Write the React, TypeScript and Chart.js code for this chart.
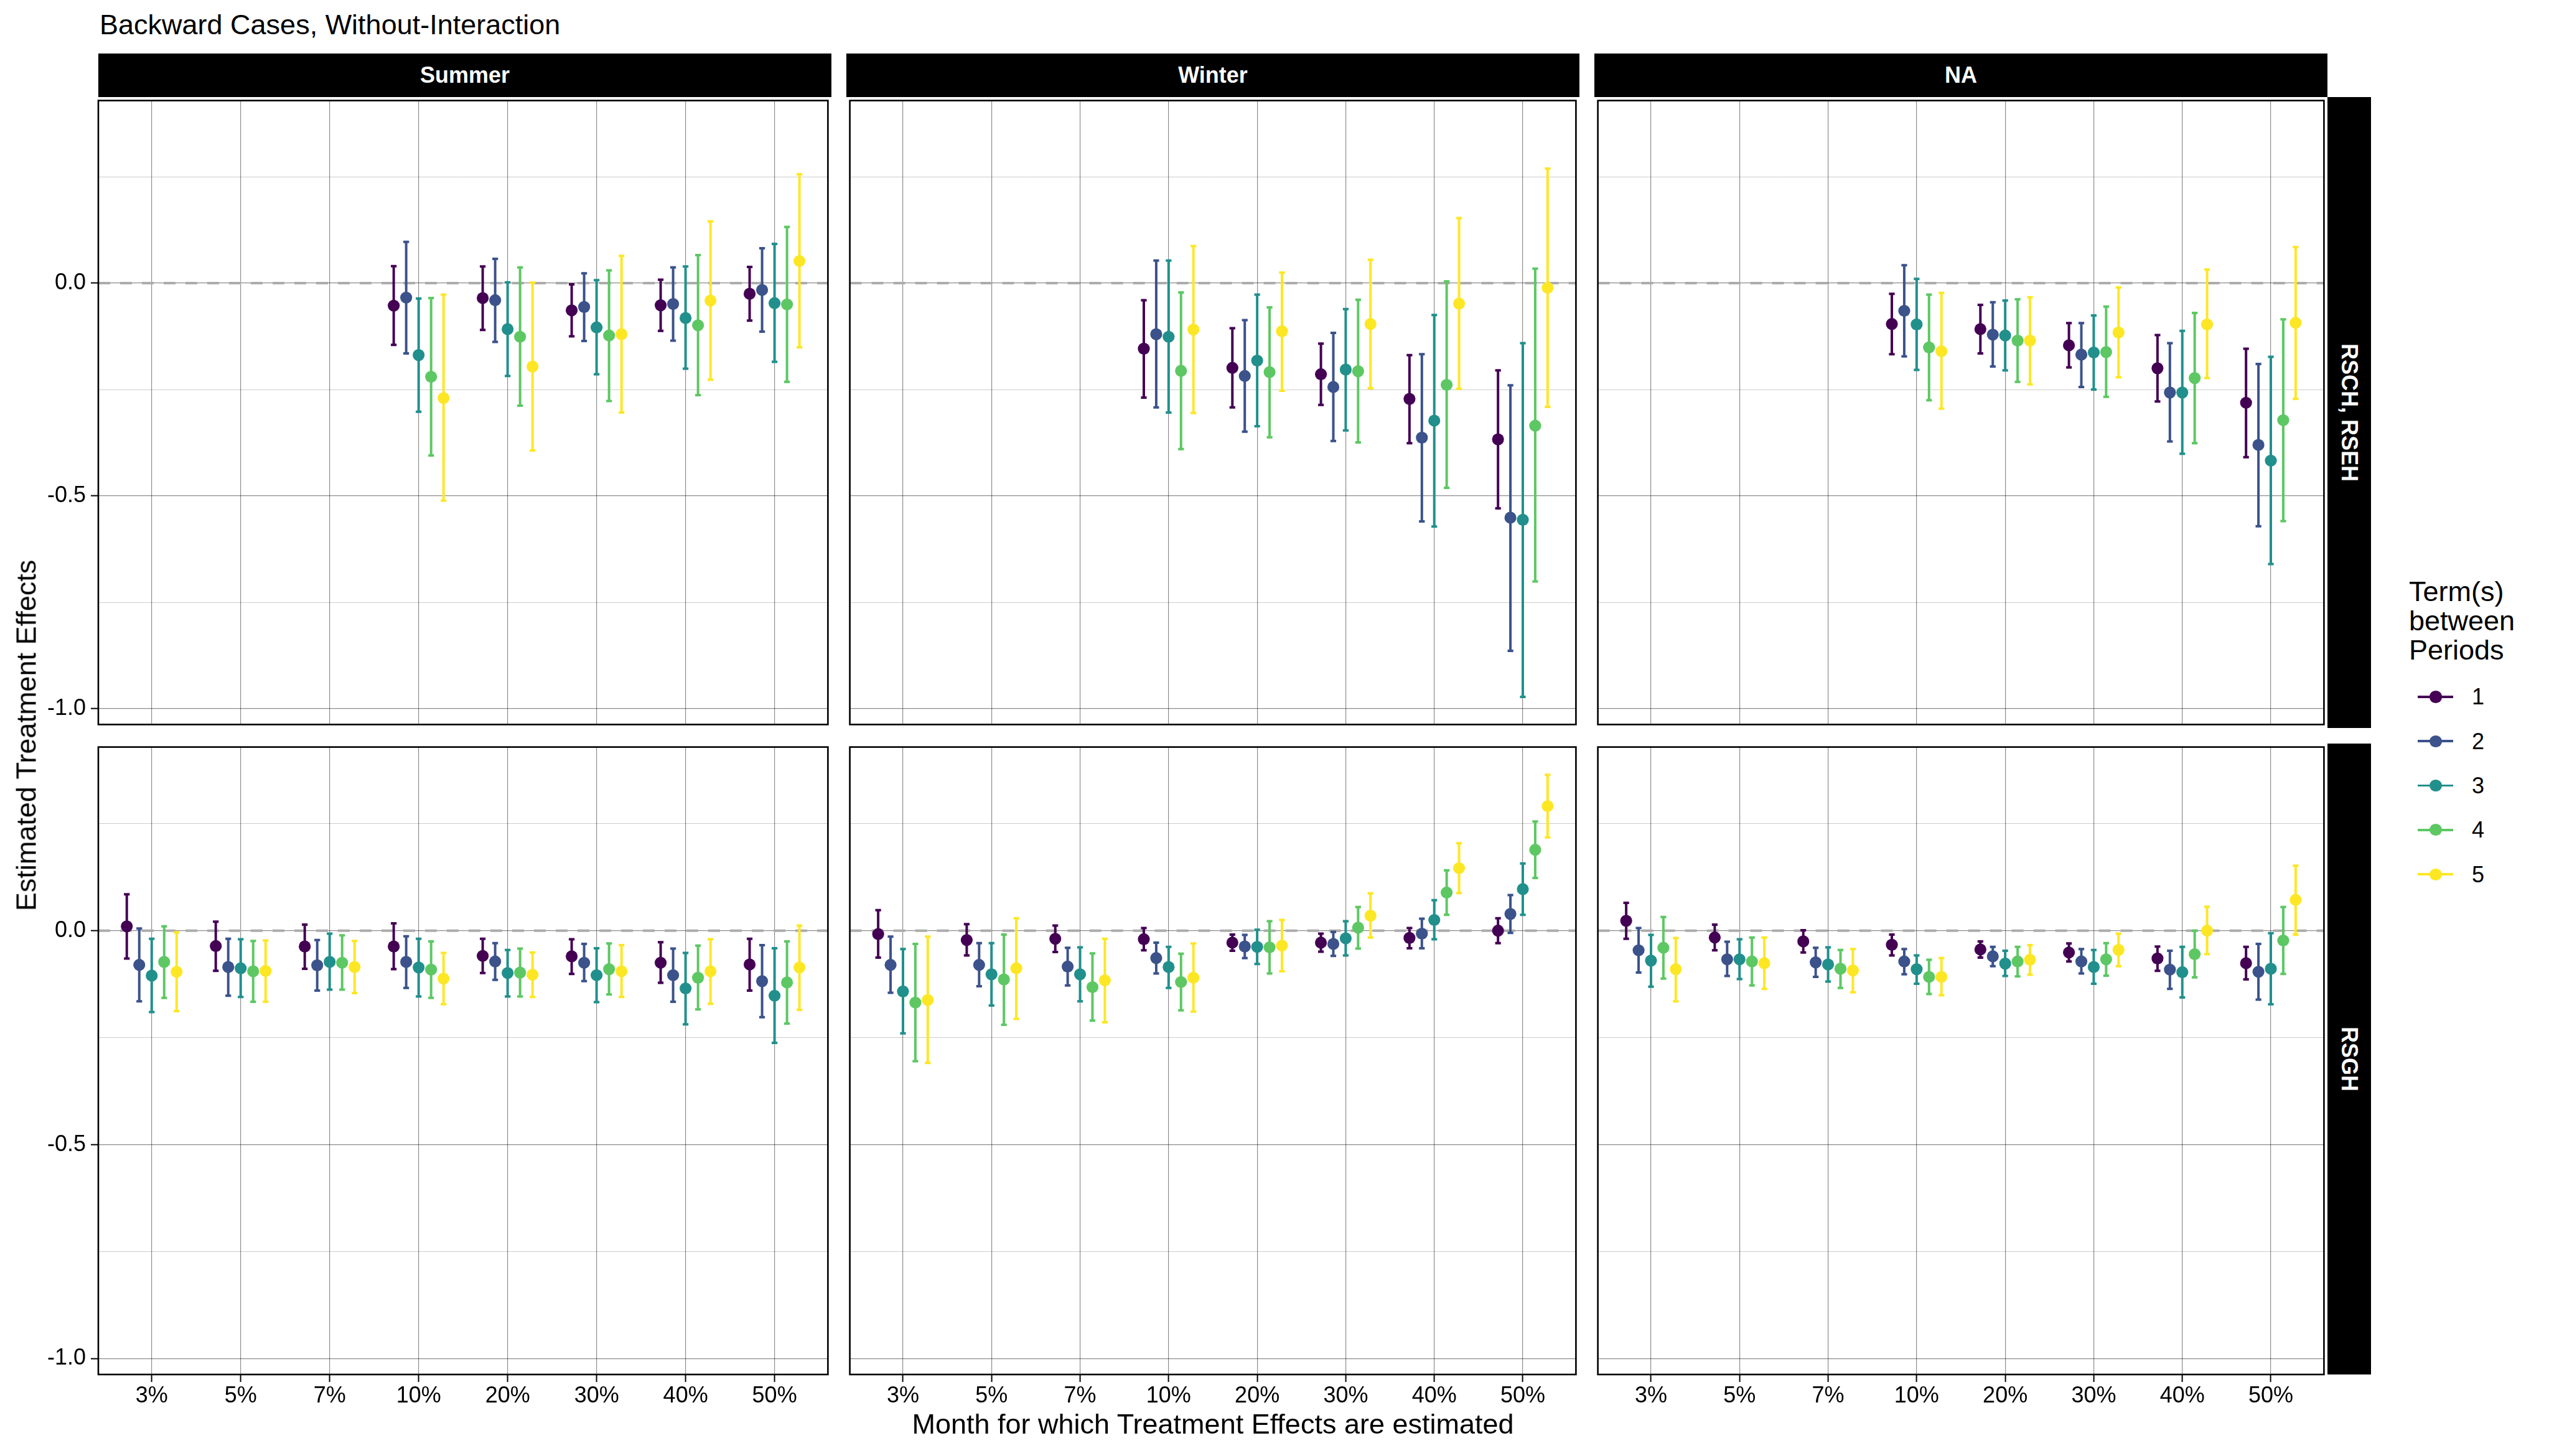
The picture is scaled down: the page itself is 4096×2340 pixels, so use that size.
import React, { useEffect, useRef } from "react";
import { Chart, registerables } from "chart.js";
Chart.register(...registerables);

// ---------- data ----------
const CATEGORIES = ["3%", "5%", "7%", "10%", "20%", "30%", "40%", "50%"];
const SERIES = ["1", "2", "3", "4", "5"];
const COLUMNS = ["Summer", "Winter", "NA"];
const ROWS = ["RSCH, RSEH", "RSGH"];
const COLORS = ["#440154", "#3B528B", "#21908C", "#5DC863", "#FDE725"];
const Y_GRID = [-1.0, -0.75, -0.5, -0.25, 0.0, 0.25];
const Y_LABELS = [-1.0, -0.5, 0.0];
const N = null;

// Row "RSCH, RSEH" / Summer
const SUMMER_TOP_EST = [
  [N, N, N, -0.053, -0.035, -0.064, -0.052, -0.025],
  [N, N, N, -0.034, -0.040, -0.056, -0.049, -0.016],
  [N, N, N, -0.169, -0.108, -0.104, -0.082, -0.047],
  [N, N, N, -0.220, -0.126, -0.123, -0.099, -0.050],
  [N, N, N, -0.270, -0.196, -0.120, -0.041, 0.052],
];
const SUMMER_TOP_LO = [
  [N, N, N, -0.145, -0.110, -0.125, -0.112, -0.088],
  [N, N, N, -0.165, -0.138, -0.136, -0.135, -0.114],
  [N, N, N, -0.302, -0.218, -0.214, -0.201, -0.185],
  [N, N, N, -0.405, -0.288, -0.277, -0.263, -0.232],
  [N, N, N, -0.511, -0.393, -0.304, -0.227, -0.151],
];
const SUMMER_TOP_HI = [
  [N, N, N, 0.040, 0.039, -0.003, 0.008, 0.038],
  [N, N, N, 0.097, 0.057, 0.023, 0.037, 0.082],
  [N, N, N, -0.036, 0.002, 0.007, 0.039, 0.092],
  [N, N, N, -0.035, 0.037, 0.030, 0.066, 0.132],
  [N, N, N, -0.027, 0.001, 0.064, 0.145, 0.256],
];
// Row "RSCH, RSEH" / Winter
const WINTER_TOP_EST = [
  [N, N, N, -0.154, -0.199, -0.214, -0.272, -0.367],
  [N, N, N, -0.120, -0.218, -0.244, -0.363, -0.551],
  [N, N, N, -0.126, -0.182, -0.203, -0.323, -0.556],
  [N, N, N, -0.206, -0.209, -0.207, -0.239, -0.335],
  [N, N, N, -0.109, -0.113, -0.096, -0.048, -0.011],
];
const WINTER_TOP_LO = [
  [N, N, N, -0.269, -0.292, -0.286, -0.376, -0.529],
  [N, N, N, -0.292, -0.349, -0.371, -0.560, -0.864],
  [N, N, N, -0.304, -0.336, -0.346, -0.572, -0.972],
  [N, N, N, -0.390, -0.362, -0.374, -0.481, -0.701],
  [N, N, N, -0.305, -0.253, -0.247, -0.248, -0.291],
];
const WINTER_TOP_HI = [
  [N, N, N, -0.040, -0.106, -0.142, -0.169, -0.205],
  [N, N, N, 0.053, -0.087, -0.117, -0.167, -0.240],
  [N, N, N, 0.053, -0.027, -0.061, -0.075, -0.141],
  [N, N, N, -0.022, -0.057, -0.039, 0.004, 0.034],
  [N, N, N, 0.087, 0.025, 0.055, 0.153, 0.269],
];
// Row "RSCH, RSEH" / NA
const NA_TOP_EST = [
  [N, N, N, -0.096, -0.108, -0.146, -0.200, -0.281],
  [N, N, N, -0.065, -0.121, -0.168, -0.257, -0.380],
  [N, N, N, -0.097, -0.123, -0.163, -0.257, -0.417],
  [N, N, N, -0.151, -0.135, -0.162, -0.223, -0.322],
  [N, N, N, -0.160, -0.135, -0.116, -0.097, -0.093],
];
const NA_TOP_LO = [
  [N, N, N, -0.167, -0.165, -0.198, -0.278, -0.409],
  [N, N, N, -0.172, -0.196, -0.244, -0.372, -0.571],
  [N, N, N, -0.204, -0.205, -0.250, -0.401, -0.660],
  [N, N, N, -0.275, -0.232, -0.267, -0.376, -0.559],
  [N, N, N, -0.295, -0.238, -0.221, -0.223, -0.272],
];
const NA_TOP_HI = [
  [N, N, N, -0.025, -0.051, -0.094, -0.122, -0.154],
  [N, N, N, 0.042, -0.045, -0.094, -0.141, -0.190],
  [N, N, N, 0.010, -0.041, -0.076, -0.112, -0.173],
  [N, N, N, -0.027, -0.038, -0.055, -0.070, -0.085],
  [N, N, N, -0.023, -0.033, -0.010, 0.032, 0.085],
];
// Row "RSGH" / Summer
const SUMMER_BOT_EST = [
  [0.010, -0.036, -0.037, -0.037, -0.059, -0.060, -0.075, -0.079],
  [-0.080, -0.085, -0.081, -0.073, -0.072, -0.075, -0.104, -0.118],
  [-0.105, -0.088, -0.073, -0.086, -0.099, -0.104, -0.135, -0.152],
  [-0.073, -0.095, -0.075, -0.091, -0.098, -0.090, -0.110, -0.121],
  [-0.096, -0.094, -0.085, -0.112, -0.103, -0.095, -0.095, -0.086],
];
const SUMMER_BOT_LO = [
  [-0.065, -0.094, -0.089, -0.090, -0.099, -0.101, -0.122, -0.140],
  [-0.165, -0.152, -0.140, -0.134, -0.115, -0.118, -0.166, -0.202],
  [-0.190, -0.155, -0.138, -0.154, -0.154, -0.167, -0.219, -0.262],
  [-0.157, -0.166, -0.138, -0.157, -0.154, -0.149, -0.184, -0.217],
  [-0.188, -0.166, -0.146, -0.172, -0.155, -0.155, -0.171, -0.185],
];
const SUMMER_BOT_HI = [
  [0.085, 0.021, 0.014, 0.017, -0.019, -0.020, -0.027, -0.019],
  [0.005, -0.019, -0.022, -0.013, -0.029, -0.031, -0.042, -0.034],
  [-0.019, -0.020, -0.007, -0.019, -0.045, -0.041, -0.052, -0.041],
  [0.010, -0.024, -0.011, -0.025, -0.042, -0.030, -0.035, -0.025],
  [-0.004, -0.023, -0.024, -0.052, -0.051, -0.034, -0.020, 0.012],
];
// Row "RSGH" / Winter
const WINTER_BOT_EST = [
  [-0.008, -0.022, -0.019, -0.020, -0.028, -0.028, -0.017, 0.000],
  [-0.080, -0.080, -0.084, -0.064, -0.037, -0.031, -0.007, 0.039],
  [-0.142, -0.102, -0.102, -0.085, -0.038, -0.018, 0.025, 0.097],
  [-0.168, -0.114, -0.132, -0.120, -0.039, 0.007, 0.089, 0.189],
  [-0.162, -0.088, -0.116, -0.110, -0.035, 0.035, 0.146, 0.291],
];
const WINTER_BOT_LO = [
  [-0.063, -0.058, -0.050, -0.046, -0.047, -0.049, -0.041, -0.029],
  [-0.145, -0.130, -0.128, -0.100, -0.064, -0.059, -0.041, -0.005],
  [-0.240, -0.175, -0.165, -0.134, -0.078, -0.058, -0.020, 0.037],
  [-0.305, -0.220, -0.210, -0.186, -0.100, -0.042, 0.037, 0.123],
  [-0.309, -0.206, -0.214, -0.189, -0.095, -0.016, 0.088, 0.218],
];
const WINTER_BOT_HI = [
  [0.048, 0.015, 0.012, 0.006, -0.009, -0.007, 0.006, 0.029],
  [-0.014, -0.029, -0.040, -0.028, -0.010, -0.003, 0.028, 0.083],
  [-0.043, -0.029, -0.039, -0.038, 0.002, 0.022, 0.071, 0.157],
  [-0.031, -0.009, -0.053, -0.054, 0.022, 0.055, 0.141, 0.255],
  [-0.014, 0.029, -0.019, -0.030, 0.025, 0.087, 0.204, 0.364],
];
// Row "RSGH" / NA
const NA_BOT_EST = [
  [0.023, -0.016, -0.025, -0.033, -0.044, -0.051, -0.065, -0.076],
  [-0.046, -0.067, -0.074, -0.072, -0.060, -0.072, -0.091, -0.096],
  [-0.070, -0.067, -0.079, -0.090, -0.077, -0.085, -0.097, -0.089],
  [-0.040, -0.072, -0.089, -0.108, -0.072, -0.067, -0.055, -0.023],
  [-0.090, -0.076, -0.093, -0.108, -0.068, -0.045, 0.000, 0.072],
];
const NA_BOT_LO = [
  [-0.019, -0.046, -0.051, -0.058, -0.063, -0.072, -0.094, -0.114],
  [-0.098, -0.106, -0.108, -0.102, -0.083, -0.100, -0.136, -0.161],
  [-0.131, -0.113, -0.119, -0.124, -0.106, -0.124, -0.156, -0.172],
  [-0.112, -0.128, -0.134, -0.148, -0.107, -0.105, -0.109, -0.101],
  [-0.165, -0.136, -0.144, -0.151, -0.103, -0.083, -0.055, -0.009],
];
const NA_BOT_HI = [
  [0.065, 0.014, 0.001, -0.009, -0.025, -0.030, -0.037, -0.038],
  [0.006, -0.026, -0.040, -0.043, -0.038, -0.043, -0.047, -0.031],
  [-0.010, -0.020, -0.039, -0.058, -0.047, -0.045, -0.038, -0.006],
  [0.032, -0.016, -0.045, -0.068, -0.038, -0.029, 0.000, 0.055],
  [-0.017, -0.016, -0.043, -0.064, -0.034, -0.007, 0.056, 0.152],
];

const PANELS = [
  { row: 0, col: 0, est: SUMMER_TOP_EST, lo: SUMMER_TOP_LO, hi: SUMMER_TOP_HI },
  { row: 0, col: 1, est: WINTER_TOP_EST, lo: WINTER_TOP_LO, hi: WINTER_TOP_HI },
  { row: 0, col: 2, est: NA_TOP_EST, lo: NA_TOP_LO, hi: NA_TOP_HI },
  { row: 1, col: 0, est: SUMMER_BOT_EST, lo: SUMMER_BOT_LO, hi: SUMMER_BOT_HI },
  { row: 1, col: 1, est: WINTER_BOT_EST, lo: WINTER_BOT_LO, hi: WINTER_BOT_HI },
  { row: 1, col: 2, est: NA_BOT_EST, lo: NA_BOT_LO, hi: NA_BOT_HI },
];

// ---------- layout / style ----------
const FONT = '"Liberation Sans", Arial, Helvetica, sans-serif';
const Y_MIN = -1.037;
const Y_MAX = 0.429;
const X_MIN = -0.6;
const X_MAX = 7.6;
const DODGE = 0.14;
const PANEL_L = [158, 1360, 2562];
const PANEL_W = 1178;
const ROW_T = [156, 1195];
const PANEL_H = 1014;
const STRIP = 70;
const Y_AXIS_W = 100;
const X_AXIS_H = 70;
const PAD = 4;
const TICK_FONT = 36;
const TITLE_FONT = 45;
const POINT_R = 9.6;
const BAR_W = 4;
const CAP_HALF = 4.6;

const zeroPadding = (s: any) => {
  s.paddingTop = 0;
  s.paddingBottom = 0;
  s.paddingLeft = 0;
  s.paddingRight = 0;
};

const panelPlugin = {
  id: "panelDeco",
  beforeDatasetsDraw(chart: any) {
    const { ctx, chartArea: a, scales } = chart;
    const x = scales.x, y = scales.y;
    ctx.save();
    ctx.beginPath();
    ctx.rect(a.left, a.top, a.right - a.left, a.bottom - a.top);
    ctx.clip();
    // dashed zero reference line
    const y0 = y.getPixelForValue(0);
    ctx.setLineDash([19, 16]);
    ctx.strokeStyle = "#acacac";
    ctx.lineWidth = 4;
    ctx.beginPath();
    ctx.moveTo(a.left, y0);
    ctx.lineTo(a.right, y0);
    ctx.stroke();
    ctx.setLineDash([]);
    // error bars
    chart.data.datasets.forEach((ds: any) => {
      ctx.strokeStyle = ds.backgroundColor;
      ctx.lineWidth = BAR_W;
      ctx.lineCap = "butt";
      ds.bars.forEach((b: any) => {
        const px = x.getPixelForValue(b.x);
        const pl = y.getPixelForValue(b.lo);
        const ph = y.getPixelForValue(b.hi);
        ctx.beginPath();
        ctx.moveTo(px, pl);
        ctx.lineTo(px, ph);
        ctx.moveTo(px - CAP_HALF, pl);
        ctx.lineTo(px + CAP_HALF, pl);
        ctx.moveTo(px - CAP_HALF, ph);
        ctx.lineTo(px + CAP_HALF, ph);
        ctx.stroke();
      });
    });
    ctx.restore();
  },
  afterDraw(chart: any) {
    const { ctx, chartArea: a } = chart;
    ctx.save();
    ctx.strokeStyle = "#000";
    ctx.lineWidth = 2.6;
    ctx.strokeRect(a.left, a.top, a.right - a.left, a.bottom - a.top);
    ctx.restore();
  },
};

function Panel({ p }: { p: any }) {
  const ref = useRef<HTMLCanvasElement>(null);
  const showY = p.col === 0;
  const showX = p.row === 1;
  const extraL = showY ? Y_AXIS_W : 0;
  const extraB = showX ? X_AXIS_H : 0;
  const w = PANEL_W + extraL + 2 * PAD;
  const h = PANEL_H + extraB + 2 * PAD;

  useEffect(() => {
    const datasets = SERIES.map((name, s) => {
      const pts: any[] = [];
      const bars: any[] = [];
      CATEGORIES.forEach((_, i) => {
        const v = p.est[s][i];
        if (v === null || v === undefined) return;
        const xv = i + (s - 2) * DODGE;
        pts.push({ x: xv, y: v });
        bars.push({ x: xv, lo: p.lo[s][i], hi: p.hi[s][i] });
      });
      return {
        label: name,
        data: pts,
        bars,
        backgroundColor: COLORS[s],
        borderColor: COLORS[s],
        borderWidth: 0,
        pointRadius: POINT_R,
        pointHoverRadius: POINT_R,
        pointBorderWidth: 0,
        showLine: false,
      };
    });
    const isMajor = (v: number) => Y_LABELS.some((m) => Math.abs(m - v) < 1e-9);
    const chart = new Chart(ref.current as HTMLCanvasElement, {
      type: "scatter",
      data: { datasets } as any,
      options: {
        animation: false,
        responsive: false,
        maintainAspectRatio: false,
        events: [],
        layout: { padding: PAD },
        plugins: { legend: { display: false }, tooltip: { enabled: false } },
        scales: {
          x: {
            type: "linear",
            min: X_MIN,
            max: X_MAX,
            afterBuildTicks: (s: any) => {
              s.ticks = CATEGORIES.map((_, i) => ({ value: i }));
            },
            afterFit: (s: any) => {
              s.height = showX ? X_AXIS_H : 0;
              zeroPadding(s);
            },
            ticks: {
              display: showX,
              autoSkip: false,
              maxRotation: 0,
              minRotation: 0,
              padding: 1.5,
              color: "#000",
              font: { family: FONT, size: TICK_FONT },
              callback: (v: any) => CATEGORIES[Math.round(v)] ?? "",
            },
            grid: {
              color: "rgba(0,0,0,0.45)",
              lineWidth: 1.2,
              drawTicks: showX,
              tickLength: 12,
              tickColor: "#000",
              tickWidth: 2,
            },
            border: { display: false },
          },
          y: {
            type: "linear",
            min: Y_MIN,
            max: Y_MAX,
            afterBuildTicks: (s: any) => {
              s.ticks = Y_GRID.map((v) => ({ value: v }));
            },
            afterFit: (s: any) => {
              s.width = showY ? Y_AXIS_W : 0;
              zeroPadding(s);
            },
            ticks: {
              display: showY,
              padding: 8,
              color: "#000",
              font: { family: FONT, size: TICK_FONT },
              callback: (v: any) => (isMajor(v) ? Number(v).toFixed(1) : ""),
            },
            grid: {
              color: (c: any) => (isMajor(c.tick.value) ? "rgba(0,0,0,0.45)" : "rgba(0,0,0,0.2)"),
              lineWidth: (c: any) => (isMajor(c.tick.value) ? 1.3 : 1),
              drawTicks: showY,
              tickLength: 12,
              tickColor: (c: any) => (isMajor(c.tick.value) ? "#000" : "rgba(0,0,0,0)"),
              tickWidth: 2,
            },
            border: { display: false },
          },
        },
      } as any,
      plugins: [panelPlugin],
    });
    return () => chart.destroy();
  }, []);

  return (
    <canvas
      ref={ref}
      width={w}
      height={h}
      style={{
        position: "absolute",
        left: PANEL_L[p.col] - extraL - PAD,
        top: ROW_T[p.row] - PAD,
        width: w,
        height: h,
      }}
    />
  );
}

export default function App() {
  const keyY0 = 1120;
  const keyStep = 71.3;
  return (
    <div
      style={{
        position: "fixed",
        left: 0,
        top: 0,
        width: 4096,
        height: 2340,
        background: "#fff",
        fontFamily: FONT,
        color: "#000",
        overflow: "hidden",
      }}
    >
      <div
        style={{
          position: "absolute",
          left: 160,
          top: 17,
          fontSize: TITLE_FONT,
          lineHeight: `${TITLE_FONT}px`,
          whiteSpace: "nowrap",
        }}
      >
        Backward Cases, Without-Interaction
      </div>

      {COLUMNS.map((c, i) => (
        <div
          key={c}
          style={{
            position: "absolute",
            left: PANEL_L[i],
            top: ROW_T[0] - STRIP,
            width: PANEL_W,
            height: STRIP,
            background: "#000",
            color: "#fff",
            fontWeight: "bold",
            fontSize: TICK_FONT,
            display: "flex",
            alignItems: "center",
            justifyContent: "center",
          }}
        >
          {c}
        </div>
      ))}

      {ROWS.map((r, i) => (
        <div
          key={r}
          style={{
            position: "absolute",
            left: PANEL_L[2] + PANEL_W,
            top: ROW_T[i],
            width: STRIP,
            height: PANEL_H,
            background: "#000",
            color: "#fff",
            fontWeight: "bold",
            fontSize: TICK_FONT,
            display: "flex",
            alignItems: "center",
            justifyContent: "center",
            writingMode: "vertical-rl",
            whiteSpace: "nowrap",
          }}
        >
          {r}
        </div>
      ))}

      {PANELS.map((p, i) => (
        <Panel key={i} p={p} />
      ))}

      <div
        style={{
          position: "absolute",
          left: 0,
          width: 2 * 1949,
          top: 2266,
          textAlign: "center",
          fontSize: TITLE_FONT,
          lineHeight: `${TITLE_FONT}px`,
          whiteSpace: "nowrap",
        }}
      >
        Month for which Treatment Effects are estimated
      </div>

      <div
        style={{
          position: "absolute",
          left: 42,
          top: 1182,
          transform: "translate(-50%, -50%) rotate(-90deg)",
          fontSize: TITLE_FONT,
          lineHeight: `${TITLE_FONT}px`,
          whiteSpace: "nowrap",
        }}
      >
        Estimated Treatment Effects
      </div>

      <div
        style={{
          position: "absolute",
          left: 3871,
          top: 927,
          fontSize: TITLE_FONT,
          lineHeight: "47px",
          whiteSpace: "nowrap",
        }}
      >
        Term(s)
        <br />
        between
        <br />
        Periods
      </div>

      {SERIES.map((s, i) => {
        const cy = keyY0 + i * keyStep;
        return (
          <React.Fragment key={s}>
            <div
              style={{
                position: "absolute",
                left: 3885,
                top: cy - 1.9,
                width: 57,
                height: 3.8,
                background: COLORS[i],
              }}
            />
            <div
              style={{
                position: "absolute",
                left: 3914 - POINT_R,
                top: cy - POINT_R,
                width: 2 * POINT_R,
                height: 2 * POINT_R,
                borderRadius: "50%",
                background: COLORS[i],
              }}
            />
            <div
              style={{
                position: "absolute",
                left: 3972,
                top: cy - 17.6,
                fontSize: TICK_FONT,
                lineHeight: `${TICK_FONT}px`,
              }}
            >
              {s}
            </div>
          </React.Fragment>
        );
      })}
    </div>
  );
}
